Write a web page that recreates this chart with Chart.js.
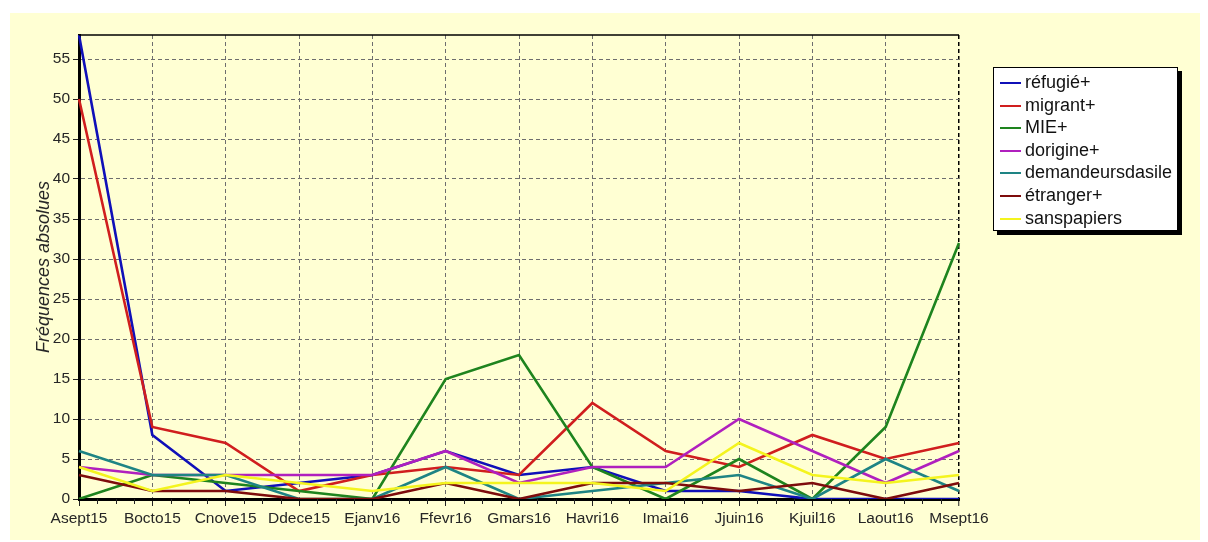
<!DOCTYPE html>
<html>
<head>
<meta charset="utf-8">
<script src="https://cdn.jsdelivr.net/npm/chart.js@4.4.1/dist/chart.umd.min.js"></script>
<style>
  html, body { margin: 0; padding: 0; background: #ffffff; }
  #wrap { position: relative; width: 1208px; height: 542px; overflow: hidden; }
  #panel { position: absolute; left: 10px; top: 13px; width: 1190px; height: 527px; background: #FFFFD3; }
  #c { position: absolute; left: 0; top: 0; }
  #legend { position: absolute; left: 993px; top: 67px; width: 185px; height: 164px; background: #ffffff;
            border: 1px solid #000; box-shadow: 4px 4px 0 #000; font-family: "Liberation Sans", Arial, sans-serif;
            font-size: 18px; color: #111; padding-top: 3px; box-sizing: border-box; }
  .row { position: relative; height: 22.6px; line-height: 22.6px; white-space: nowrap; }
  .sw { position: absolute; left: 6px; top: 11px; width: 21px; height: 2px; }
  .lb { position: absolute; left: 31px; top: 0; }
</style>
</head>
<body>
<div id="wrap">
  <div id="panel"></div>
  <canvas id="c" width="1208" height="542"></canvas>
  <div id="legend"></div>
</div>
<script>
const categories = ['Asept15','Bocto15','Cnove15','Ddece15','Ejanv16','Ffevr16','Gmars16','Havri16','Imai16','Jjuin16','Kjuil16','Laout16','Msept16'];
const seriesNames = ['réfugié+','migrant+','MIE+','dorigine+','demandeursdasile','étranger+','sanspapiers'];
const refugie     = [58, 8, 1, 2, 3, 6, 3, 4, 1, 1, 0, 0, 0];
const migrant     = [50, 9, 7, 1, 3, 4, 3, 12, 6, 4, 8, 5, 7];
const mie         = [0, 3, 2, 1, 0, 15, 18, 4, 0, 5, 0, 9, 32];
const dorigine    = [4, 3, 3, 3, 3, 6, 2, 4, 4, 10, 6, 2, 6];
const demandeurs  = [6, 3, 3, 0, 0, 4, 0, 1, 2, 3, 0, 5, 1];
const etranger    = [3, 1, 1, 0, 0, 2, 0, 2, 2, 1, 2, 0, 2];
const sanspapiers = [4, 1, 3, 2, 1, 2, 2, 2, 1, 7, 3, 2, 3];
const yTickValues = [0, 5, 10, 15, 20, 25, 30, 35, 40, 45, 50, 55];
const yMax = 58;
const yTitle = 'Fréquences absolues';

const colors = ['#1010B8', '#D01E1E', '#1E841E', '#B020BE', '#1E8484', '#7E0C0C', '#F4F41E'];
const values = [refugie, migrant, mie, dorigine, demandeurs, etranger, sanspapiers];

const datasets = values.map((v, i) => ({
  label: seriesNames[i],
  data: v,
  borderColor: colors[i],
  backgroundColor: colors[i],
  borderWidth: 2.6,
  pointRadius: 0,
  tension: 0,
  fill: false,
  order: values.length - i
}));

// HTML legend from datasets
const lg = document.getElementById('legend');
datasets.forEach(d => {
  const r = document.createElement('div'); r.className = 'row';
  const s = document.createElement('div'); s.className = 'sw'; s.style.background = d.borderColor;
  const t = document.createElement('span'); t.className = 'lb'; t.textContent = d.label;
  r.appendChild(s); r.appendChild(t); lg.appendChild(r);
});

const frame = {
  id: 'frame',
  afterDatasetsDraw(chart) {
    const {ctx, chartArea: a, scales} = chart;
    const xs = scales.x;
    ctx.save();
    ctx.strokeStyle = '#000'; ctx.lineWidth = 1.5; ctx.setLineDash([]);
    ctx.beginPath(); ctx.moveTo(a.left, a.top); ctx.lineTo(a.right, a.top); ctx.stroke();
    ctx.lineWidth = 1; ctx.strokeStyle = '#222';
    for (let i = 0; i < categories.length - 1; i++) {
      for (let k = 1; k <= 3; k++) {
        const x = Math.round(xs.getPixelForValue(i + k / 4)) + 0.5;
        ctx.beginPath(); ctx.moveTo(x, a.bottom); ctx.lineTo(x, a.bottom + 5); ctx.stroke();
      }
    }
    ctx.restore();
  }
};

new Chart(document.getElementById('c'), {
  type: 'line',
  data: { labels: categories, datasets },
  options: {
    responsive: false,
    animation: false,
    events: [],
    layout: { padding: { left: 0, right: 249, top: 35, bottom: 0 } },
    plugins: { legend: { display: false }, tooltip: { enabled: false } },
    scales: {
      x: {
        type: 'category',
        offset: false,
        afterFit(s) { s.height = 43; },
        grid: {
          color: c => (c.index === categories.length - 1 ? '#000' : '#6e6e6e'),
          lineWidth: c => (c.index === categories.length - 1 ? 1.5 : 1),
          tickColor: '#222', tickLength: 7, tickWidth: 1
        },
        border: { display: true, color: '#000', width: 3, dash: [4, 3] },
        ticks: { autoSkip: false, maxRotation: 0, color: '#262626', padding: 3,
                 font: { family: '"Liberation Sans", Arial, sans-serif', size: 15.5 } }
      },
      y: {
        min: 0, max: yMax,
        afterFit(s) { s.width = 79; },
        afterBuildTicks(s) { s.ticks = yTickValues.map(v => ({ value: v })); },
        grid: { color: '#6e6e6e', lineWidth: 1, tickColor: '#222', tickLength: 6 },
        border: { display: true, color: '#000', width: 3, dash: [4, 3] },
        ticks: { color: '#262626', padding: 3,
                 font: { family: '"Liberation Sans", Arial, sans-serif', size: 15.5 } },
        title: { display: true, text: yTitle, color: '#262626', padding: { top: 33, bottom: 0 },
                 font: { family: '"Liberation Sans", Arial, sans-serif', size: 18, style: 'italic' } }
      }
    }
  },
  plugins: [frame]
});
</script>
</body>
</html>
